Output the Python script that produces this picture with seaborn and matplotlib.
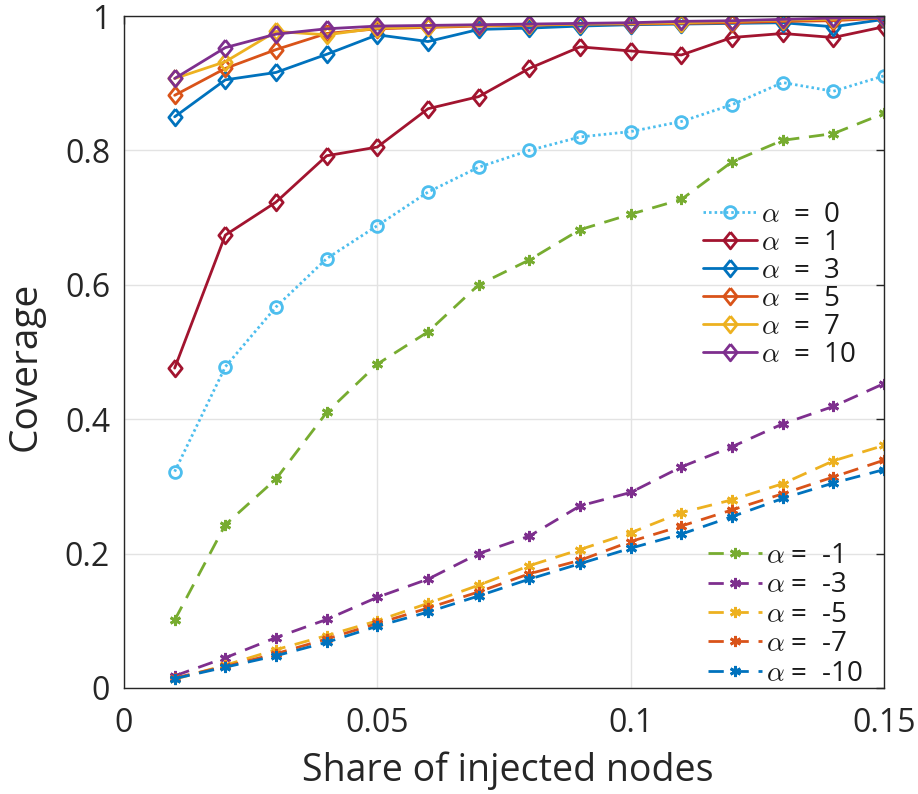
import numpy as np
import pandas as pd
import matplotlib
matplotlib.use("Agg")
import matplotlib.pyplot as plt
import seaborn as sns

# ---------------- data ----------------
share = [0.01, 0.02, 0.03, 0.04, 0.05, 0.06, 0.07, 0.08, 0.09, 0.10, 0.11, 0.12, 0.13, 0.14, 0.15]

cov_a0 = [0.322, 0.478, 0.567, 0.639, 0.688, 0.738, 0.775, 0.800, 0.820, 0.828, 0.843, 0.868, 0.901, 0.888, 0.911]
cov_a1 = [0.476, 0.674, 0.723, 0.792, 0.805, 0.862, 0.880, 0.922, 0.954, 0.948, 0.942, 0.968, 0.974, 0.968, 0.984]
cov_a3 = [0.850, 0.905, 0.916, 0.943, 0.972, 0.962, 0.980, 0.982, 0.985, 0.987, 0.988, 0.989, 0.990, 0.984, 0.995]
cov_a5 = [0.882, 0.922, 0.950, 0.974, 0.981, 0.983, 0.985, 0.986, 0.988, 0.988, 0.989, 0.990, 0.992, 0.993, 0.997]
cov_a7 = [0.907, 0.932, 0.977, 0.972, 0.982, 0.984, 0.986, 0.987, 0.988, 0.989, 0.990, 0.992, 0.994, 0.995, 0.998]
cov_a10 = [0.907, 0.953, 0.973, 0.981, 0.985, 0.986, 0.987, 0.988, 0.989, 0.990, 0.992, 0.993, 0.995, 0.997, 0.998]

cov_m1 = [0.101, 0.243, 0.311, 0.410, 0.482, 0.530, 0.600, 0.637, 0.682, 0.705, 0.727, 0.783, 0.815, 0.825, 0.855]
cov_m3 = [0.018, 0.045, 0.075, 0.102, 0.135, 0.162, 0.200, 0.226, 0.271, 0.291, 0.329, 0.359, 0.393, 0.419, 0.453]
cov_m5 = [0.013, 0.034, 0.057, 0.078, 0.100, 0.126, 0.153, 0.182, 0.206, 0.231, 0.261, 0.280, 0.304, 0.338, 0.361]
cov_m7 = [0.015, 0.032, 0.051, 0.073, 0.096, 0.119, 0.143, 0.170, 0.190, 0.218, 0.241, 0.265, 0.289, 0.314, 0.339]
cov_m10 = [0.014, 0.031, 0.048, 0.068, 0.092, 0.113, 0.137, 0.162, 0.185, 0.208, 0.229, 0.255, 0.282, 0.305, 0.325]

pos_labels = ["0", "1", "3", "5", "7", "10"]
neg_labels = ["-1", "-3", "-5", "-7", "-10"]

x_ticks = [0, 0.05, 0.1, 0.15]
x_ticklabels = ["0", "0.05", "0.1", "0.15"]
y_ticks = [0, 0.2, 0.4, 0.6, 0.8, 1.0]
y_ticklabels = ["0", "0.2", "0.4", "0.6", "0.8", "1"]

x_label = "Share of injected nodes"
y_label = "Coverage"

# ---------------- style ----------------
sns.set_theme(style="white")
plt.rcParams["font.family"] = ["Open Sans", "DejaVu Sans"]
plt.rcParams["mathtext.fontset"] = "cm"

c_blue = "#0072BD"
c_orange = "#D95319"
c_yellow = "#EDB120"
c_purple = "#7E2F8E"
c_green = "#77AC30"
c_lblue = "#4DBEEE"
c_red = "#A2142F"

fig = plt.figure(figsize=(9.18, 7.94), dpi=100)
ax = fig.add_axes([124 / 918, 1 - 688 / 794, 760 / 918, 672 / 794])

lw = 2.0
dash = (0, (5.5, 3.5))
dot = (0, (0.9, 1.1))
diamond = [(0, 1), (0.8, 0), (0, -1), (-0.8, 0), (0, 1)]

pos_series = [
    (cov_a0, c_lblue, "o", dot, 8.5),
    (cov_a1, c_red, diamond, "-", 12),
    (cov_a3, c_blue, diamond, "-", 12),
    (cov_a5, c_orange, diamond, "-", 12),
    (cov_a7, c_yellow, diamond, "-", 12),
    (cov_a10, c_purple, diamond, "-", 12),
]
neg_series = [
    (cov_m1, c_green),
    (cov_m3, c_purple),
    (cov_m5, c_yellow),
    (cov_m7, c_orange),
    (cov_m10, c_blue),
]

pos_text = [r"$\alpha$  =  " + l for l in pos_labels]
neg_text = [r"$\alpha$ =  " + l for l in neg_labels]

handles_pos = []
for (vals, col, mk, ls, ms), lab in zip(pos_series, pos_text):
    sns.lineplot(x=share, y=vals, ax=ax, color=col, marker=mk, linestyle=ls,
                 linewidth=lw, markersize=ms, markerfacecolor="none",
                 markeredgecolor=col, markeredgewidth=2.0, label=lab)
    handles_pos.append(ax.lines[-1])

handles_neg = []
for (vals, col), lab in zip(neg_series, neg_text):
    sns.lineplot(x=share, y=vals, ax=ax, color=col, marker=(6, 2, 0), linestyle=dash,
                 linewidth=lw, markersize=8, markeredgecolor=col,
                 markeredgewidth=2.0, label=lab)
    handles_neg.append(ax.lines[-1])

ax.set_xlim(0, 0.15)
ax.set_ylim(0, 1)
ax.set_xticks(x_ticks)
ax.set_xticklabels(x_ticklabels)
ax.set_yticks(y_ticks)
ax.set_yticklabels(y_ticklabels)
ax.grid(True, color="#e3e3e3", linewidth=1.0)
ax.set_axisbelow(True)

for s in ax.spines.values():
    s.set_visible(True)
    s.set_color("#262626")
    s.set_linewidth(1.0)

ax.tick_params(axis="both", direction="in", length=6, width=1, color="#262626",
               top=True, right=True, labelsize=23, labelcolor="#262626")
ax.tick_params(axis="x", pad=14)
ax.tick_params(axis="y", pad=10)

ax.set_xlabel(x_label, fontsize=27, color="#262626")
ax.set_ylabel(y_label, fontsize=28, color="#262626")
ax.xaxis.set_label_coords(0.505, -0.095)
ax.yaxis.set_label_coords(-0.105, 0.478)

leg_kw = dict(frameon=False, fontsize=20, borderpad=0,
              handlelength=1.95, handletextpad=0.15, borderaxespad=0,
              bbox_transform=fig.transFigure, loc="upper left")

leg1 = ax.legend(handles=handles_pos, labels=pos_text, labelspacing=0.0,
                 bbox_to_anchor=(703 / 918, 1 - 201 / 794), **leg_kw)
for t in leg1.get_texts():
    t.set_color("#1a1a1a")
ax.add_artist(leg1)
leg2 = ax.legend(handles=handles_neg, labels=neg_text, labelspacing=0.05,
                 bbox_to_anchor=(708 / 918, 1 - 542 / 794), **leg_kw)
for t in leg2.get_texts():
    t.set_color("#1a1a1a")

fig.savefig("out.png", dpi=100)
